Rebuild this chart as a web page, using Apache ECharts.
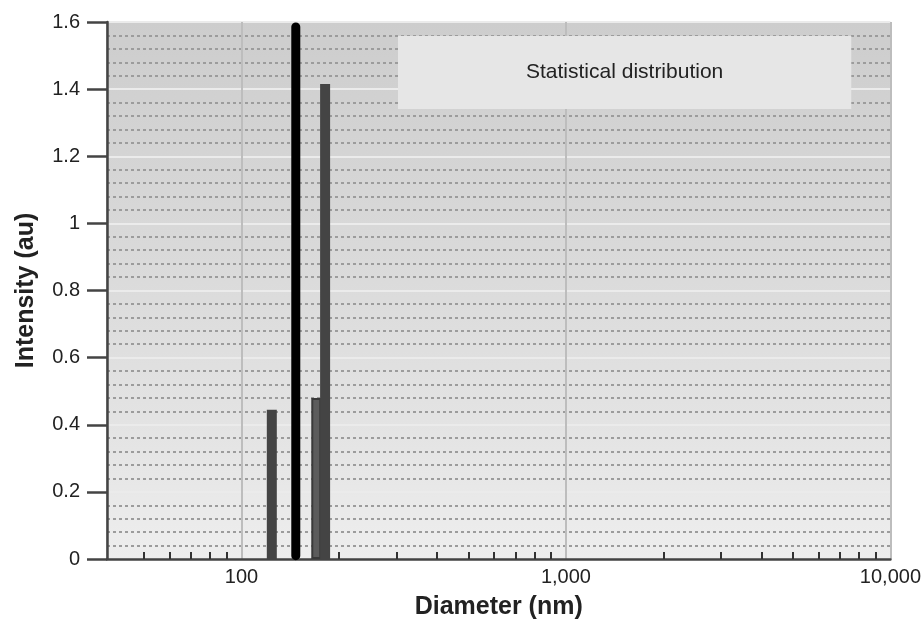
<!DOCTYPE html>
<html><head><meta charset="utf-8">
<script src="https://cdn.jsdelivr.net/npm/echarts@6/dist/echarts.min.js"></script>
<style>html,body{margin:0;padding:0;background:#fff}#c{width:924px;height:625px}</style>
</head><body><div id="c"></div>
<script>
// ---- data ----
const seriesName = 'Statistical distribution';
const barDiameters = [124, 170, 181];          // nm
const barIntensities = [0.445, 0.48, 1.415];   // au
const meanDiameter = 147;                      // nm (thick black line)
const meanLineRange = [0.01, 1.585];           // au
const xMin = 38.5, xMax = 10000;
const yMin = 0, yMax = 1.6, yStep = 0.2;
const xLabelValues = [100, 1000, 10000];
const xMinorTickValues = [50, 60, 70, 80, 90,
  200, 300, 400, 500, 600, 700, 800, 900,
  2000, 3000, 4000, 5000, 6000, 7000, 8000, 9000];

const FONT = "'Liberation Sans', Arial, sans-serif";
const chart = echarts.init(document.getElementById('c'), null, {renderer: 'canvas'});

const barData = barDiameters.map((d, i) => {
  const item = {value: [d, barIntensities[i]]};
  if (i === 1) item.itemStyle = {color: '#5c5c5c', borderColor: '#3a3a3a', borderWidth: 2};
  return item;
});

chart.setOption({
  animation: false,
  textStyle: {fontFamily: FONT},
  grid: {
    left: 107, right: 32, top: 22, bottom: 63,
    show: true, borderWidth: 0,
    backgroundColor: new echarts.graphic.LinearGradient(0, 0, 0, 1, [
      {offset: 0, color: '#cdcdcd'},
      {offset: 0.45, color: '#dadada'},
      {offset: 0.8, color: '#e5e5e5'},
      {offset: 1, color: '#eeeeee'}
    ])
  },
  legend: {
    data: [{name: seriesName, icon: 'none'}],
    left: 398, top: 36,
    itemWidth: 0, itemHeight: 0,
    padding: [26, 128, 26, 123],
    backgroundColor: '#e6e6e6',
    selectedMode: false,
    textStyle: {fontSize: 21, color: '#222', fontFamily: FONT}
  },
  xAxis: [{
    type: 'log', min: xMin, max: xMax, position: 'bottom',
    name: 'Diameter (nm)', nameLocation: 'middle', nameGap: 36,
    nameTextStyle: {fontSize: 25, fontWeight: 'bold', color: '#222', fontFamily: FONT},
    axisLine: {show: true, lineStyle: {color: '#444', width: 2.5}},
    axisTick: {show: true, inside: true, length: 7, customValues: xMinorTickValues,
      lineStyle: {color: '#333', width: 2}},
    axisLabel: {customValues: xLabelValues, fontSize: 20, color: '#222', margin: 8,
      formatter: v => Number(v).toLocaleString('en-US')},
    splitLine: {show: false},
    minorTick: {show: false}
  }, {
    type: 'log', min: xMin, max: xMax, position: 'bottom',
    axisLine: {show: false}, axisTick: {show: false}, axisLabel: {show: false},
    splitLine: {show: true, lineStyle: {color: '#bdbdbd', width: 2}}
  }],
  yAxis: {
    type: 'value', min: yMin, max: yMax, interval: yStep,
    name: 'Intensity (au)', nameLocation: 'middle', nameGap: 68,
    nameTextStyle: {fontSize: 25, fontWeight: 'bold', color: '#222', fontFamily: FONT},
    axisLine: {show: true, lineStyle: {color: '#444', width: 2.5}},
    axisTick: {show: true, inside: false, length: 20, lineStyle: {color: '#444', width: 2.5}},
    axisLabel: {fontSize: 20, color: '#222', margin: 27},
    splitLine: {show: true, lineStyle: {color: '#ebebeb', width: 2}},
    minorTick: {show: false, splitNumber: 5},
    minorSplitLine: {show: true, lineStyle: {color: '#9c9c9c', width: 2, type: [3, 3]}}
  },
  series: [{
    name: seriesName, type: 'bar', xAxisIndex: 0, barWidth: 10, barGap: '-100%',
    itemStyle: {color: '#444444'},
    data: barData, z: 3
  }, {
    name: 'Mean', type: 'line', xAxisIndex: 0, symbol: 'none', z: 5,
    lineStyle: {color: '#000', width: 9, cap: 'round'},
    data: meanLineRange.map(v => [meanDiameter, v])
  }]
});
</script></body></html>
